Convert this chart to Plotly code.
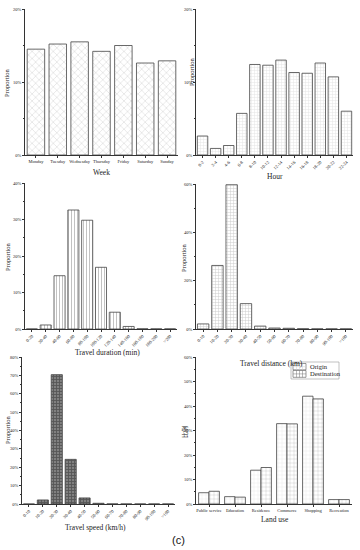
import plotly.graph_objects as go

# ---------------- data ----------------
week_cats = ["Monday", "Tuesday", "Wednesday", "Thursday", "Friday", "Saturday", "Sunday"]
week_vals = [14.5, 15.2, 15.5, 14.2, 15.0, 12.6, 12.9]

hour_cats = ["0-2", "2-4", "4-6", "6-8", "8-10", "10-12", "12-14", "14-16", "16-18", "18-20", "20-22", "22-24"]
hour_vals = [2.6, 0.9, 1.3, 5.7, 12.4, 12.3, 13.0, 11.3, 11.2, 12.6, 10.7, 6.0]

dur_cats = ["0-20", "20-40", "40-60", "60-80", "80-100", "100-120", "120-140", "140-160", "160-180", "180-200", ">200"]
dur_vals = [0.0, 1.1, 14.6, 32.6, 29.8, 16.9, 4.6, 0.7, 0.05, 0.03, 0.03]

dist_cats = ["0-10", "10-20", "20-30", "30-40", "40-50", "50-60", "60-70", "70-80", "80-90", "90-100", ">100"]
dist_vals = [2.1, 26.3, 59.7, 10.5, 1.2, 0.4, 0.3, 0.1, 0.05, 0.05, 0.05]

speed_cats = ["0-10", "10-20", "20-30", "30-40", "40-50", "50-60", "60-70", "70-80", "80-90", "90-100", ">100"]
speed_vals = [0.0, 2.2, 70.4, 24.3, 3.3, 0.4, 0.05, 0.02, 0.02, 0.02, 0.02]

land_cats = ["Public service", "Education", "Residence", "Commerce", "Shopping", "Recreation"]
origin_vals = [4.6, 3.0, 13.8, 32.8, 44.0, 1.8]
dest_vals = [5.2, 2.8, 14.9, 32.7, 42.9, 1.8]
series_names = ["Origin", "Destination"]

W, H = 360, 550
SERIF = "Liberation Serif"

def px(x0, x1):
    return [x0 / W, x1 / W]

def py(top, bottom):
    return [1 - bottom / H, 1 - top / H]

fig = go.Figure()

def bar(x, y, xa, ya, shape, fg="#8a8a8a", bg="white", size=4, sol=0.25, name=None, line="#444"):
    fig.add_trace(go.Bar(
        x=x, y=y, xaxis=xa, yaxis=ya, name=name, showlegend=False,
        marker=dict(color=bg, line=dict(color=line, width=0.8),
                    pattern=dict(shape=shape, fgcolor=fg, bgcolor=bg, size=size, solidity=sol)),
    ))

bar(week_cats, week_vals, "x", "y", "x", size=5, sol=0.15)
bar(hour_cats, hour_vals, "x2", "y2", "+", fg="#c8c8c8", size=3, sol=0.3)
bar(dur_cats, dur_vals, "x3", "y3", "|", fg="#777", size=3, sol=0.3)
bar(dist_cats, dist_vals, "x4", "y4", "+", fg="#999", size=3, sol=0.3)
bar(speed_cats, speed_vals, "x5", "y5", "+", fg="#2a2a2a", bg="#808080", size=3, sol=0.5)
bar(land_cats, origin_vals, "x6", "y6", "+", fg="#d0d0d0", size=4, sol=0.2, name=series_names[0])
bar(land_cats, dest_vals, "x6", "y6", "+", fg="#888", size=4, sol=0.2, name=series_names[1])

domains = {
    1: (px(25, 178), py(9, 155)),
    2: (px(196, 353), py(9, 155)),
    3: (px(25, 177), py(183, 329)),
    4: (px(196, 353), py(184, 329)),
    5: (px(22, 175), py(357, 504)),
    6: (px(196, 352), py(357, 504)),
}
yranges = {1: (0, 20, 10), 2: (0, 20, 10), 3: (0, 40, 10), 4: (0, 60, 20), 5: (0, 80, 10), 6: (0, 60, 10)}
tickangles = {1: 0, 2: -45, 3: -45, 4: -45, 5: -45, 6: 0}

layout = dict(
    width=W, height=H, margin=dict(l=0, r=0, t=0, b=0),
    paper_bgcolor="white", plot_bgcolor="white",
    font=dict(family=SERIF, color="#222", size=5),
    bargap=0.2, bargroupgap=0.0, barmode="group", showlegend=False,
)
for i in range(1, 7):
    s = "" if i == 1 else str(i)
    xd, yd = domains[i]
    lo, hi, dt = yranges[i]
    layout["xaxis" + s] = dict(domain=xd, anchor="y" + s, type="category", showline=True, linecolor="#333",
                              linewidth=0.8, ticks="outside", ticklen=2, tickcolor="#333",
                              tickangle=tickangles[i], tickfont=dict(size=4.5), showgrid=False,
                              automargin=False)
    layout["yaxis" + s] = dict(domain=yd, anchor="x" + s, range=[lo, hi], dtick=dt, ticksuffix="%",
                              showline=True, linecolor="#333", linewidth=0.8, ticks="outside", ticklen=2,
                              tickcolor="#333", tickfont=dict(size=4.5), showgrid=False, zeroline=False,
                              automargin=False,
                              minor=dict(ticks="outside", ticklen=1, tickcolor="#333", dtick=dt / 2))
fig.update_layout(**layout)

annots = [
    ("Week", 101, 172, 0, 7.5),
    ("Hour", 275, 177, 0, 7.5),
    ("Travel duration (min)", 107, 352, 0, 7.5),
    ("Travel distance (km)", 271, 363, 0, 7.5),
    ("Travel speed (km/h)", 95, 527, 0, 7.5),
    ("Land use", 275, 519, 0, 7.5),
    ("Proportion", 7, 83, -90, 6.5),
    ("Proportion", 192, 72, -90, 6.5),
    ("Proportion", 7, 257, -90, 6.5),
    ("Proportion", 183, 258, -90, 6.5),
    ("Proportion", 7, 430, -90, 6.5),
    ("比例", 184, 432, -90, 6),
]
for text, x, y, ang, sz in annots:
    fam = "Noto Sans CJK SC" if text == "比例" else SERIF
    fig.add_annotation(text=text, x=x / W, y=1 - y / H, xref="paper", yref="paper",
                       showarrow=False, textangle=ang, font=dict(family=fam, size=sz, color="#222"),
                       xanchor="center", yanchor="middle")
fig.add_annotation(text="(c)", x=178 / W, y=1 - 540 / H, xref="paper", yref="paper", showarrow=False,
                   font=dict(family="Liberation Sans", size=11, color="#111"), xanchor="center", yanchor="middle")

# ---- manual compact legend (box, swatches, labels) ----
def rect(x0, y0, x1, y1, line="#555", fill="white", w=0.6):
    fig.add_shape(type="rect", xref="paper", yref="paper", x0=x0 / W, x1=x1 / W,
                  y0=1 - y1 / H, y1=1 - y0 / H, line=dict(color=line, width=w), fillcolor=fill)

def seg(x0, y0, x1, y1, color, w=0.5):
    fig.add_shape(type="line", xref="paper", yref="paper", x0=x0 / W, x1=x1 / W,
                  y0=1 - y0 / H, y1=1 - y1 / H, line=dict(color=color, width=w))

rect(291, 362, 339, 379, line="#999", w=0.6)
sw = [(363.5, 369.8, "#cfcfcf"), (370.5, 377.3, "#777")]
for (t, b, gc), name in zip(sw, series_names):
    rect(293, t, 306, b, line="#555", w=0.6)
    for xx in (296.5, 299.5, 302.5):
        seg(xx, t, xx, b, gc)
    seg(293, (t + b) / 2, 306, (t + b) / 2, gc)
    fig.add_annotation(text=name, x=308 / W, y=1 - ((t + b) / 2) / H, xref="paper", yref="paper",
                       showarrow=False, xanchor="left", yanchor="middle",
                       font=dict(family=SERIF, size=6.5, color="#222"))

fig.write_html("out.html", config={"displayModeBar": False},
               post_script="document.body.style.margin='0';document.body.style.overflow='hidden';")
